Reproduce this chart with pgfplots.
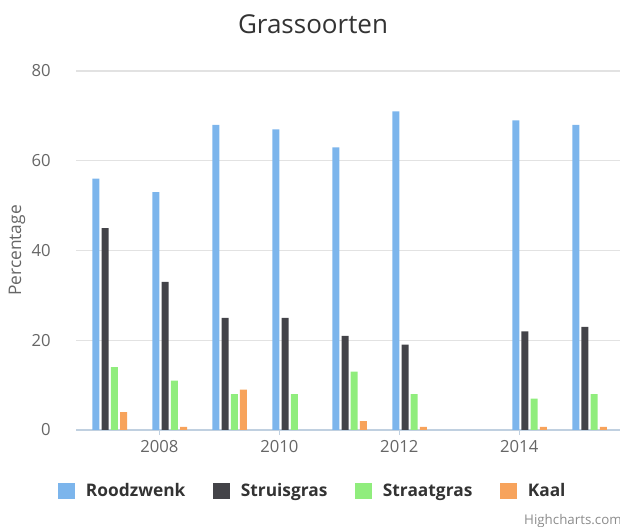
\documentclass[border=0pt]{standalone}
\usepackage{fontspec}
\setmainfont{Open Sans}
\usepackage{pgfplots}
\pgfplotsset{compat=1.18}

\definecolor{hcblue}{HTML}{7CB5EC}
\definecolor{hcdark}{HTML}{434348}
\definecolor{hcgreen}{HTML}{90ED7D}
\definecolor{hcorange}{HTML}{F7A35C}
\definecolor{gridc}{HTML}{E2E2E2}
\definecolor{axisc}{HTML}{C0D0E0}
\definecolor{titlec}{HTML}{333333}
\definecolor{labelc}{HTML}{666666}

\begin{document}
\begin{tikzpicture}
\useasboundingbox (-57pt,-72.75pt) rectangle (408pt,322.5pt);
\begin{axis}[
    at={(0pt,0pt)}, anchor=south west,
    scale only axis,
    width=408pt, height=269.25pt,
    xmin=2006.61, xmax=2015.68,
    ymin=0, ymax=80,
    ybar,
    bar width=5.25pt,
    axis x line*=bottom, axis y line*=left,
    x axis line style={draw=axisc, line width=0.9pt},
    y axis line style={draw=none},
    xtick={2008,2010,2012,2014},
    ytick={0,20,40,60,80},
    ymajorgrids,
    grid style={draw=gridc, line width=0.9pt},
    tick align=outside,
    major tick length=3.75pt,
    xtick style={draw=axisc, line width=0.75pt},
    ytick style={draw=none},
    /pgf/number format/1000 sep={},
    /pgf/number format/assume math mode=true,
    tick label style={font=\fontsize{12.5}{14}\selectfont, text=labelc},
    xticklabel style={anchor=north, inner sep=0pt},
    xticklabel shift=3.5pt,
    yticklabel style={anchor=east, inner sep=0pt},
    yticklabel shift=15pt,
    ylabel={Percentage},
    every axis y label/.style={at={([xshift=-44.25pt]rel axis cs:0,0.5)}, rotate=90, anchor=center,
        font=\fontsize{13}{15}\selectfont, text=labelc},
    title={Grassoorten},
    every axis title/.style={at={([yshift=35.25pt]rel axis cs:0.4357,1)}, anchor=center,
        font=\fontsize{19.5}{23}\selectfont, text=titlec},
    legend columns=4,
    legend image code/.code={\fill[#1] (0pt,-6pt) rectangle (12.75pt,6pt);},
    legend style={at={([xshift=-13.3pt,yshift=-45.75pt]rel axis cs:0,0)}, anchor=west,
        draw=none, fill=none, inner sep=0pt, outer sep=0pt,
        nodes={inner sep=0pt},
        font=\bfseries\fontsize{13}{15}\selectfont, text=titlec,
        /tikz/every odd column/.append style={column sep=8pt},
        /tikz/every even column/.append style={column sep=20.8pt}},
    clip=false,
]
\addplot[fill=hcblue, draw=none, bar shift=-2.6pt] coordinates {
    (2007,56) (2008,53) (2009,68) (2010,67) (2011,63) (2012,71) (2014,69) (2015,68)};
\addplot[fill=hcdark, draw=none, bar shift=4.3pt] coordinates {
    (2007,45) (2008,33) (2009,25) (2010,25) (2011,21) (2012,19) (2014,22) (2015,23)};
\addplot[fill=hcgreen, draw=none, bar shift=11.2pt] coordinates {
    (2007,14) (2008,11) (2009,8) (2010,8) (2011,13) (2012,8) (2014,7) (2015,8)};
\addplot[fill=hcorange, draw=none, bar shift=18.1pt] coordinates {
    (2007,4) (2008,0.7) (2009,9) (2011,2) (2012,0.7) (2014,0.7) (2015,0.7)};
\legend{Roodzwenk, Struisgras, Straatgras, Kaal}
\node[anchor=east, inner sep=0pt, font=\fontsize{10}{12}\selectfont, text=labelc!75]
    at ([xshift=1.5pt,yshift=-68.25pt]rel axis cs:1,0) {Highcharts.com};
\end{axis}
\end{tikzpicture}
\end{document}
